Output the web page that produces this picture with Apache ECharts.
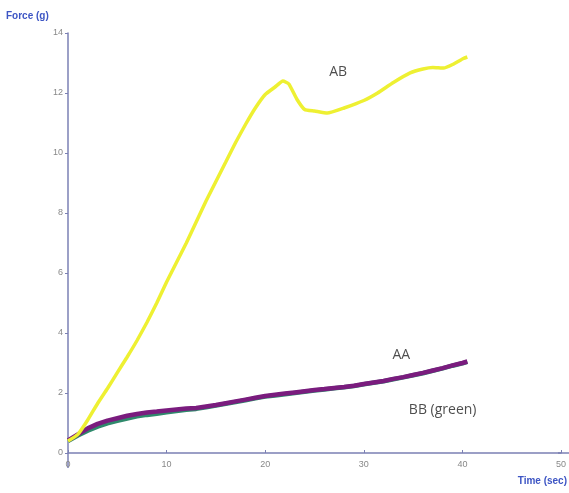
<!DOCTYPE html>
<html>
<head>
<meta charset="utf-8">
<script src="https://cdn.jsdelivr.net/npm/echarts@6/dist/echarts.min.js"></script>
<style>html,body{margin:0;padding:0;background:#fff}#c{width:569px;height:493px}</style>
</head>
<body>
<div id="c"></div>
<script>
const abTime = [0,1,2,3,4,5,6,7,8,9,10,11,12,13,14,15,16,17,18,19,20,21,21.8,22.4,23.2,24,25,26.3,28,30,31.4,33,34.7,36,37,38.1,39,40.1,40.5];
const abForce = [0.4,0.62,1.1,1.65,2.15,2.68,3.2,3.75,4.35,5.0,5.7,6.35,7.0,7.7,8.4,9.05,9.7,10.35,10.95,11.5,11.95,12.2,12.4,12.3,11.8,11.45,11.4,11.33,11.5,11.75,12.0,12.35,12.67,12.8,12.85,12.83,12.95,13.15,13.2];
const aaTime = [0,1,2,3,4,5,6,7,8,9,10,11,12,13,14,15,16,17,18,19,20,21,22,23,24,25,26,27,28,29,30,31,32,33,34,35,36,37,38,39,40,40.5];
const aaForce = [0.42,0.62,0.82,0.97,1.08,1.16,1.24,1.3,1.35,1.38,1.42,1.45,1.48,1.5,1.55,1.6,1.66,1.72,1.78,1.84,1.9,1.94,1.98,2.02,2.06,2.1,2.13,2.17,2.2,2.24,2.3,2.35,2.4,2.47,2.53,2.6,2.67,2.75,2.83,2.92,3.0,3.05];
const bbForce = [0.4,0.58,0.74,0.88,0.99,1.07,1.15,1.22,1.27,1.31,1.36,1.4,1.44,1.47,1.52,1.58,1.64,1.7,1.76,1.82,1.88,1.92,1.96,2.0,2.04,2.08,2.12,2.16,2.19,2.23,2.29,2.34,2.39,2.46,2.52,2.59,2.66,2.74,2.82,2.91,2.99,3.04];
const xTicks = [0,10,20,30,40,50];
const yTicks = [0,2,4,6,8,10,12,14];
const notes = [[27.4,12.7,'AB'],[33.8,3.27,'AA'],[38.0,1.43,'BB (green)']];

const zip = (a,b) => a.map((v,i)=>[v,b[i]]);
const chart = echarts.init(document.getElementById('c'));
const axisCol = '#7b80b4';
chart.setOption({
  animation:false,
  grid:{left:68,right:4,top:33,bottom:40},
  xAxis:{type:'value',min:xTicks[0],max:xTicks[xTicks.length-1],interval:10,
    axisLine:{lineStyle:{color:axisCol,width:1.5}},
    axisTick:{inside:true,length:3,lineStyle:{color:axisCol}},
    axisLabel:{color:'#888',fontSize:9,margin:7,fontFamily:'Liberation Sans'},
    splitLine:{show:false}},
  yAxis:{type:'value',min:yTicks[0],max:yTicks[yTicks.length-1],interval:2,
    axisLine:{show:true,lineStyle:{color:axisCol,width:1.5}},
    axisTick:{show:true,length:3,lineStyle:{color:axisCol}},
    axisLabel:{color:'#888',fontSize:9,margin:5,fontFamily:'Liberation Sans'},
    splitLine:{show:false}},
  series:[
    {type:'line',name:'BB',data:zip(aaTime,bbForce),showSymbol:false,lineStyle:{color:'#2f8a6c',width:4.5},z:2},
    {type:'line',name:'AA',data:zip(aaTime,aaForce),showSymbol:false,lineStyle:{color:'#7a1c7e',width:4.5},z:3},
    {type:'line',name:'AB',data:zip(abTime,abForce),showSymbol:false,smooth:0.15,lineStyle:{color:'#eef032',width:3.5},z:4},
    {type:'scatter',data:notes,symbolSize:0,z:5,
      label:{show:true,position:'inside',formatter:p=>p.data[2],color:'#222',fontSize:14,fontFamily:'Open Sans'}}
  ],
  graphic:[
    {type:'text',left:6,top:11,style:{text:'Force (g)',fill:'#3d55c4',fontWeight:'bold',fontSize:10,fontFamily:'Liberation Sans'}},
    {type:'text',right:2,top:476,style:{text:'Time (sec)',fill:'#3d55c4',fontWeight:'bold',fontSize:10,fontFamily:'Liberation Sans'}}
  ]
});
const p0 = chart.convertToPixel({gridIndex:0},[0,0]);
chart.setOption({graphic:[{},{},
  {type:'line',shape:{x1:p0[0],y1:p0[1],x2:p0[0],y2:p0[1]+15},style:{stroke:axisCol,lineWidth:1.5}},
  {type:'line',shape:{x1:p0[0]+490,y1:p0[1],x2:569,y2:p0[1]},style:{stroke:axisCol,lineWidth:1.5}}
]});
</script>
</body>
</html>
